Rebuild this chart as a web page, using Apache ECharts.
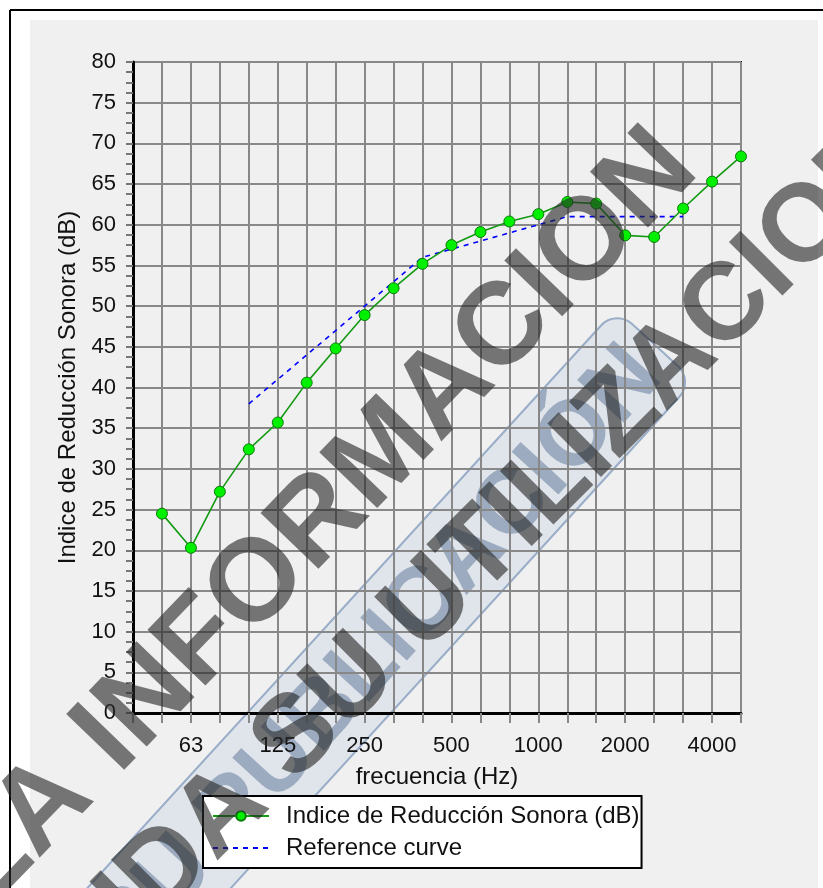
<!DOCTYPE html>
<html>
<head>
<meta charset="utf-8">
<script src="https://cdn.jsdelivr.net/npm/echarts@6/dist/echarts.min.js"></script>
<style>
html,body{margin:0;padding:0;background:#fff;}
#c{width:823px;height:888px;}
</style>
</head>
<body>
<div id="c"></div>
<script>
// Third-octave band centre frequencies (Hz)
const categories = ['40','50','63','80','100','125','160','200','250','315','400','500','630','800','1000','1250','1600','2000','2500','3150','4000','5000'];
// Shown tick labels
const tickLabels = ['63','125','250','500','1000','2000','4000'];
// Sound reduction index (dB)
const reductionIndex = [null,24.5,20.3,27.2,32.4,35.7,40.6,44.8,48.9,52.2,55.2,57.5,59.1,60.4,61.3,62.8,62.6,58.7,58.5,62.0,65.3,68.4];
// Shifted reference curve (dB)
const referenceCurve = [null,null,null,null,38,41,44,47,50,53,56,57,58,59,60,61,61,61,61,61,null,null];

const seriesNames = ['Indice de Reducción Sonora (dB)','Reference curve'];
const xTitle = 'frecuencia (Hz)';
const yTitle = 'Indice de Reducción Sonora (dB)';

const FONT = 'Liberation Sans, Arial, sans-serif';
const chart = echarts.init(document.getElementById('c'), null, {renderer:'canvas'});

const deg = Math.PI/180;
const option = {
  animation:false,
  backgroundColor:'#ffffff',
  graphic:[
    {type:'rect', z:-10, silent:true, shape:{x:30,y:20,width:788,height:868}, style:{fill:'#f0f0f0'}},
    {type:'line', z:-9, silent:true, shape:{x1:10,y1:10,x2:823,y2:10}, style:{stroke:'#000',lineWidth:2}},
    {type:'line', z:-9, silent:true, shape:{x1:10,y1:10,x2:10,y2:888}, style:{stroke:'#000',lineWidth:2}},
    // watermark: blue stamp
    {type:'group', x:655, y:345, rotation:47.6*deg, z:100, silent:true, children:[
      {type:'rect', shape:{x:-950,y:-53,width:950,height:106,r:22}, style:{fill:'rgba(190,205,225,0.30)', stroke:'rgba(110,140,180,0.65)', lineWidth:2}},
      {type:'text', x:-18, y:4, style:{text:'PROHIBIDA SU PUBLICACIÓN', font:'bold 92px Liberation Sans, Arial, sans-serif', fill:'rgba(55,85,125,0.40)', align:'right', verticalAlign:'middle'}}
    ]},
    // watermark: grey lines
    {type:'text', x:678, y:150, rotation:46*deg, z:101, silent:true,
      style:{text:'LA INFORMACION', font:'bold 117px Liberation Sans, Arial, sans-serif', fill:'rgba(40,40,40,0.62)', align:'right', verticalAlign:'middle'}},
    {type:'text', x:894, y:141, rotation:45*deg, z:101, silent:true,
      style:{text:'PROHIBIDA SU UTILIZACION', font:'bold 110px Liberation Sans, Arial, sans-serif', fill:'rgba(40,40,40,0.62)', align:'right', verticalAlign:'middle'}}
  ],
  grid:{left:133, top:62, width:608, height:651, show:true, backgroundColor:'#f0f0f0', borderColor:'#000', borderWidth:2},
  legend:{
    left:203, top:796,
    orient:'vertical',
    backgroundColor:'#ffffff', borderColor:'#000', borderWidth:2, borderRadius:0,
    padding:[8,2,8,9],
    itemGap:8, itemWidth:56, itemHeight:12,
    textStyle:{fontFamily:FONT, fontSize:24, color:'#111', padding:[0,0,0,12]},
    data:[
      {name:seriesNames[0]},
      {name:seriesNames[1], itemStyle:{color:'transparent', borderColor:'transparent', borderWidth:0, opacity:0}}
    ]
  },
  xAxis:{
    type:'category', data:categories, boundaryGap:false,
    name:xTitle, nameLocation:'middle', nameGap:52,
    nameTextStyle:{fontFamily:FONT, fontSize:24, color:'#111'},
    axisLine:{show:true, onZero:false, lineStyle:{color:'#000', width:3}},
    axisTick:{show:true, inside:false, length:10, interval:0, lineStyle:{color:'#888', width:2}},
    axisLabel:{interval:(i,v)=>tickLabels.includes(v), margin:22, fontFamily:FONT, fontSize:22, color:'#111'},
    splitLine:{show:true, interval:0, lineStyle:{color:'#888', width:2}}
  },
  yAxis:{
    type:'value', min:0, max:80, interval:5,
    name:yTitle, nameLocation:'middle', nameGap:48,
    nameTextStyle:{fontFamily:FONT, fontSize:24, color:'#111'},
    axisLine:{show:true, lineStyle:{color:'#000', width:3}},
    axisTick:{show:true, inside:false, length:7, lineStyle:{color:'#777', width:2}},
    minorTick:{show:true, splitNumber:4, length:7, lineStyle:{color:'#777', width:2}},
    axisLabel:{margin:17, fontFamily:FONT, fontSize:22, color:'#111'},
    splitLine:{show:true, lineStyle:{color:'#888', width:2}}
  },
  series:[
    {name:seriesNames[0], type:'line', data:reductionIndex, z:5,
     symbol:'circle', symbolSize:11, showSymbol:true,
     lineStyle:{color:'#129a12', width:1.6},
     itemStyle:{color:'#00f000', borderColor:'#0a7a0a', borderWidth:1},
     emphasis:{disabled:true}},
    {name:seriesNames[1], type:'line', data:referenceCurve, z:4,
     symbol:'none', showSymbol:false,
     lineStyle:{color:'#0000ff', width:1.6, type:[5,5]},
     itemStyle:{color:'#0000ff'},
     emphasis:{disabled:true}}
  ]
};
chart.setOption(option);
</script>
</body>
</html>
